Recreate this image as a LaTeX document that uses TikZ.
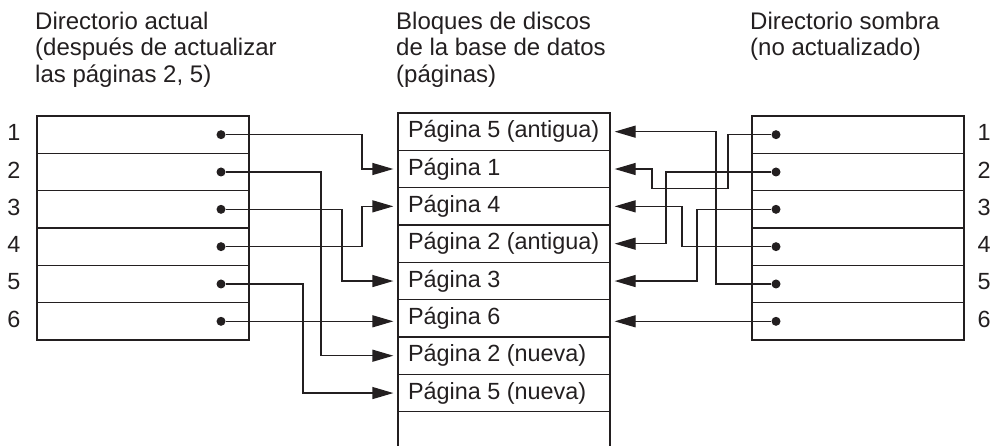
\documentclass[tikz,border=0pt]{standalone}
\usepackage{fontspec}
\setmainfont{Liberation Sans}
\usepackage{tikz}
\usetikzlibrary{arrows.meta,calc}
\definecolor{tinta}{RGB}{35,31,32}

\tikzset{
  fila/.style={draw=tinta,line width=1.3pt,minimum width=212pt,minimum height=37.33pt,inner sep=0pt},
  pagina/.style={fila,minimum height=37.34pt,inner xsep=10pt,
    text=tinta,font=\fontsize{23.4}{26}\selectfont},
  punto/.style={circle,fill=tinta,inner sep=0pt,minimum size=9pt},
  puntero/.style={tinta,line width=1.3pt,-{Triangle[length=21pt,width=12pt]},shorten >=4pt},
  titulo/.style={anchor=north west,align=left,inner sep=0pt,text=tinta,
    font=\fontsize{24}{26.5}\selectfont},
  num/.style={text=tinta,inner sep=0pt,font=\fontsize{23.4}{26}\selectfont}
}

\begin{document}
\begin{tikzpicture}[x=1pt,y=-1pt]
  \useasboundingbox (0,0) rectangle (995,446);
  %% titulos
  \node[titulo] (tizq) at (35,11.5) {Directorio actual\\(después de actualizar\\las páginas 2, 5)};
  \node[titulo] (tcen) at (396,11.5) {Bloques de discos\\de la base de datos\\(páginas)};
  \node[titulo] (tder) at (750,11.5) {Directorio sombra\\(no actualizado)};

  %% directorios actual y sombra
  \foreach \i in {1,...,6}{
    \node[fila] (L\i) at (143,{116+37.33*(\i-0.5)}) {};
    \node[fila] (R\i) at (858,{116+37.33*(\i-0.5)}) {};
    \node[punto] (Ld\i) at (221,{116+37.33*(\i-0.5)}) {};
    \node[punto] (Rd\i) at (776,{116+37.33*(\i-0.5)}) {};
    \node[num] (nl\i) at (14,{114+37.33*(\i-0.5)}) {\i};
    \node[num] (nr\i) at (984,{114+37.33*(\i-0.5)}) {\i};
  }

  %% bloques de la base de datos
  \foreach \t [count=\i] in {Página 5 (antigua),Página 1,Página 4,Página 2 (antigua),
      Página 3,Página 6,Página 2 (nueva),Página 5 (nueva)}
    \node[pagina] (M\i) at (504,{113+37.34*(\i-0.5)}) {\makebox[192pt][l]{\t}};
  \node[pagina] (M9) at (504,{113+37.34*8.5}) {};

  %% punteros del directorio actual
  \foreach \f/\x/\m in {1/362/2,2/321/7,3/342/5,4/362/3,5/303/8}{
    \coordinate (cl\f) at (\x,0);
    \draw[puntero] (Ld\f) -- (Ld\f -| cl\f) |- (M\m.west);
  }
  \draw[puntero] (Ld6) -- (Ld6 -| M6.west);

  %% punteros del directorio sombra
  \coordinate (cr1a) at (728,188.7);
  \coordinate (cr1b) at (652,188.7);
  \draw[puntero] (Rd1) -| (cr1a) -- (cr1b) |- (M2.east);
  \foreach \f/\x/\m in {2/666/4,3/697/5,4/682/3,5/716/1}{
    \coordinate (cr\f) at (\x,0);
    \draw[puntero] (Rd\f) -- (Rd\f -| cr\f) |- (M\m.east);
  }
  \draw[puntero] (Rd6) -- (Rd6 -| M6.east);
\end{tikzpicture}
\end{document}
